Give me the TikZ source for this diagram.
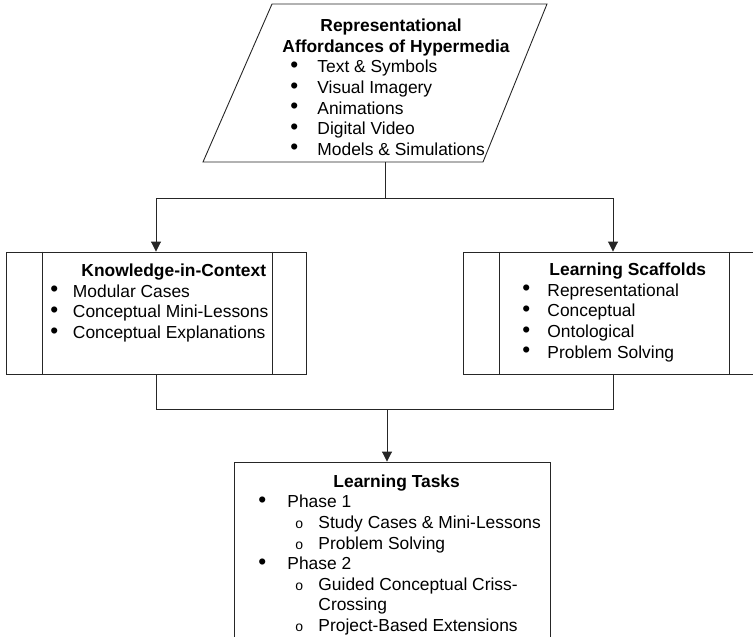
\documentclass[tikz,border=0pt]{standalone}
\usepackage{fontspec}
\setmainfont{Liberation Sans}
\usetikzlibrary{arrows.meta,positioning}

\newcommand{\dotmark}{\raisebox{0.4pt}{\scalebox{1.3}{\textbullet}}}
\newcommand{\itm}[2][26pt]{\makebox[#1][l]{\hspace*{-1pt}\dotmark}#2}
\newcommand{\subitm}[1]{\hspace*{36pt}\makebox[23pt][l]{\fontsize{14}{14}\selectfont o}#1}

\tikzset{
  box/.style={draw, rectangle, inner sep=0pt, minimum width=300pt, minimum height=122pt},
  blocktext/.style={anchor=north west, inner sep=0pt, align=left, font=\fontsize{17.4}{20.6}\selectfont},
  arrow/.style={-{Triangle[width=10pt,length=10pt]}},
}

\begin{document}
\begin{tikzpicture}[x=1pt, y=-1pt, line width=0.9pt, draw=black!85]
  \useasboundingbox (0,0) rectangle (753,637);
  \clip (0,0) rectangle (753,637);

  % the four blocks
  \draw (203,162) coordinate (afford-bottom) -- (272,4) -- (547,4) -- (483,162) -- cycle;
  \node[box] (context) at (156,313) {};
  \node[box] (scaffold) at (613,313) {};
  \node[box, minimum width=316pt, minimum height=198pt] (tasks) at (392,561) {};
  \foreach \b in {context,scaffold} {
    \draw ([xshift=37pt]\b.north west) -- ([xshift=37pt]\b.south west);
    \draw ([xshift=-34pt]\b.north east) -- ([xshift=-34pt]\b.south east);
  }

  % texts
  \node[blocktext] (afford-text) at (282,18.6) {\hspace*{38pt}\textbf{Representational}\\
    \textbf{Affordances of Hypermedia}\\
    \hspace*{9pt}\itm{Text \& Symbols}\\
    \hspace*{9pt}\itm{Visual Imagery}\\
    \hspace*{9pt}\itm{Animations}\\
    \hspace*{9pt}\itm{Digital Video}\\
    \hspace*{9pt}\itm{Models \& Simulations}};
  \node[blocktext] (context-text) at (51,263.6) {\hspace*{30pt}\textbf{Knowledge-in-Context}\\
    \itm[21.5pt]{Modular Cases}\\
    \itm[21.5pt]{Conceptual Mini-Lessons}\\
    \itm[21.5pt]{Conceptual Explanations}};
  \node[blocktext] (scaffold-text) at (523,262.6) {\hspace*{26pt}\textbf{Learning Scaffolds}\\
    \itm[24pt]{Representational}\\
    \itm[24pt]{Conceptual}\\
    \itm[24pt]{Ontological}\\
    \itm[24pt]{Problem Solving}};
  \node[blocktext] (tasks-text) at (259,474.3) {\hspace*{74pt}\textbf{Learning Tasks}\\
    \itm[28pt]{Phase 1}\\
    \subitm{Study Cases \& Mini-Lessons}\\
    \subitm{Problem Solving}\\
    \itm[28pt]{Phase 2}\\
    \subitm{Guided Conceptual Criss-}\\
    \hspace*{59pt}Crossing\\
    \subitm{Project-Based Extensions}};

  % connectors
  \coordinate (split) at (385,198);
  \coordinate (join) at (387,409);
  \draw (afford-bottom -| split) -- (split);
  \draw[arrow] (split) -| (context.north);
  \draw[arrow] (split) -| (scaffold.north);
  \draw (context.south) |- (join);
  \draw (scaffold.south) |- (join);
  \draw[arrow] (join) -- (join |- tasks.north);
\end{tikzpicture}
\end{document}
